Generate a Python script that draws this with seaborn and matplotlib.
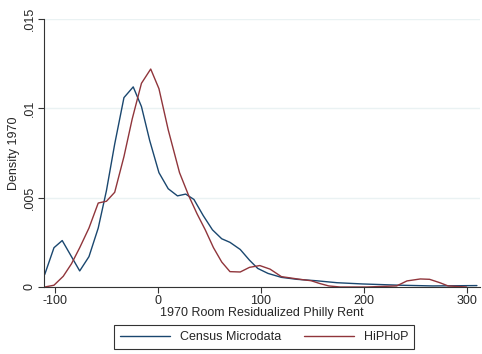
import numpy as np
import pandas as pd
import matplotlib
matplotlib.use("Agg")
import matplotlib.pyplot as plt
import seaborn as sns

# Census Microdata density
census_x = [-110, -101, -93, -76, -67, -58, -50, -42, -33, -24, -16, -8, 1, 10, 19, 27, 35, 44,
            53, 62, 70, 80, 89, 97, 107, 120, 135, 154, 174, 199, 235, 267, 310]
census_y = [0.0007, 0.0022, 0.0026, 0.0009, 0.0017, 0.0033, 0.0054, 0.0080, 0.0106, 0.0112,
            0.0101, 0.0082, 0.0064, 0.0055, 0.0051, 0.0052, 0.0049, 0.0040, 0.0032, 0.0027,
            0.0025, 0.0021, 0.0015, 0.00104, 0.00076, 0.00054, 0.00043, 0.00035, 0.00024,
            0.00017, 0.0001, 0.00006, 0.00008]

# HiPHoP density
hiphop_x = [-110, -101, -92, -84, -76, -67, -58, -50, -42, -33, -25, -16, -7, 1, 10, 21, 30, 38,
            46, 54, 62, 70, 80, 89, 99, 109, 120, 138, 149, 157, 166, 177, 203, 232, 242, 255,
            264, 274, 282, 300]
hiphop_y = [0.0, 0.0001, 0.0006, 0.0013, 0.0022, 0.0033, 0.0047, 0.0048, 0.0053, 0.0073, 0.0094,
            0.0114, 0.0122, 0.0111, 0.0088, 0.0064, 0.0051, 0.0041, 0.0032, 0.0022, 0.0014,
            0.00086, 0.00084, 0.0011, 0.0012, 0.0010, 0.00058, 0.00043, 0.00035, 0.0002,
            0.00006, 0.0, 0.0, 0.00006, 0.00034, 0.00045, 0.00043, 0.00024, 0.00006, 0.0]

series_names = ["Census Microdata", "HiPHoP"]
x_ticks = [-100, 0, 100, 200, 300]
y_ticks = [0, 0.005, 0.01, 0.015]
y_tick_labels = ["0", ".005", ".01", ".015"]

df = pd.concat([
    pd.DataFrame({"x": census_x, "y": census_y, "series": series_names[0]}),
    pd.DataFrame({"x": hiphop_x, "y": hiphop_y, "series": series_names[1]}),
], ignore_index=True)

sns.set_style("white")
plt.rcParams["font.family"] = ["Liberation Sans", "DejaVu Sans"]
FS = 9

fig = plt.figure(figsize=(4.82, 3.54), dpi=100)
ax = fig.add_axes([44 / 482, 1 - 287 / 354, (480 - 44) / 482, (287 - 19) / 354])

palette = {"Census Microdata": "#1a476f", "HiPHoP": "#90353b"}
sns.lineplot(data=df, x="x", y="y", hue="series", palette=palette, ax=ax,
             linewidth=1.0, legend=False, sort=False, estimator=None)

ax.set_xlim(-110.7, 313)
ax.set_ylim(0, 0.015)
ax.set_xticks(x_ticks)
ax.set_xticklabels([str(t) for t in x_ticks])
ax.set_yticks(y_ticks)
ax.set_yticklabels(y_tick_labels, rotation=90, va="center")
ax.grid(axis="y", color="#eaf2f3", linewidth=1.0)
ax.grid(axis="x", visible=False)
ax.set_axisbelow(True)
for s in ["top", "right"]:
    ax.spines[s].set_visible(False)
for s in ["left", "bottom"]:
    ax.spines[s].set_color("#333333")
    ax.spines[s].set_linewidth(0.8)
ax.tick_params(axis="both", which="major", direction="out", length=4, width=0.8,
               color="#333333", labelsize=FS, pad=2, bottom=True, left=True)
ax.set_xlabel("1970 Room Residualized Philly Rent", fontsize=FS, labelpad=0)
ax.set_ylabel("Density 1970", fontsize=FS, labelpad=3)

from matplotlib.lines import Line2D
handles = [Line2D([0], [0], color=palette[n], lw=1.0) for n in series_names]
leg = fig.legend(handles, series_names, loc="center", bbox_to_anchor=(264 / 482, 1 - 337 / 354),
                 ncol=2, frameon=True, fancybox=False, edgecolor="black", handlelength=4.0,
                 columnspacing=1.8, handletextpad=0.8, borderpad=0.45, fontsize=FS)
leg.get_frame().set_linewidth(0.8)

fig.savefig("out.png", dpi=100, facecolor="white")
